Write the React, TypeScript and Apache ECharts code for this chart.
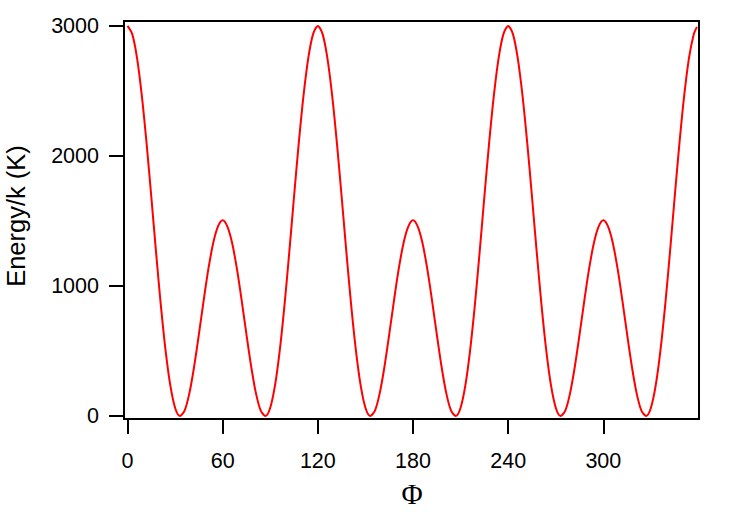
import React, { useEffect, useRef } from "react";
import * as echarts from "echarts";

const phi = [
  0, 3, 6, 9, 12, 15, 18, 21, 24, 27, 30, 33, 36, 39, 42, 45, 48, 51, 54, 57,
  60, 63, 66, 69, 72, 75, 78, 81, 84, 87, 90, 93, 96, 99, 102, 105, 108, 111, 114, 117,
  120, 123, 126, 129, 132, 135, 138, 141, 144, 147, 150, 153, 156, 159, 162, 165, 168, 171, 174, 177,
  180, 183, 186, 189, 192, 195, 198, 201, 204, 207, 210, 213, 216, 219, 222, 225, 228, 231, 234, 237,
  240, 243, 246, 249, 252, 255, 258, 261, 264, 267, 270, 273, 276, 279, 282, 285, 288, 291, 294, 297,
  300, 303, 306, 309, 312, 315, 318, 321, 324, 327, 330, 333, 336, 339, 342, 345, 348, 351, 354, 357,
  359,
];

const energy = [
  3000, 2937, 2755, 2468, 2102, 1688, 1260, 855, 505, 235, 64, 1, 41, 174, 379, 627, 888, 1131, 1328, 1456,
  1505, 1456, 1328, 1131, 888, 627, 379, 174, 41, 1, 64, 235, 505, 855, 1260, 1688, 2102, 2468, 2755, 2937,
  3000, 2937, 2755, 2468, 2102, 1688, 1260, 855, 505, 235, 64, 1, 41, 174, 379, 627, 888, 1131, 1328, 1456,
  1505, 1456, 1328, 1131, 888, 627, 379, 174, 41, 1, 64, 235, 505, 855, 1260, 1688, 2102, 2468, 2755, 2937,
  3000, 2937, 2755, 2468, 2102, 1688, 1260, 855, 505, 235, 64, 1, 41, 174, 379, 627, 888, 1131, 1328, 1456,
  1505, 1456, 1328, 1131, 888, 627, 379, 174, 41, 1, 64, 235, 505, 855, 1260, 1688, 2102, 2468, 2755, 2937,
  2993,
];

const xTicks = [0, 60, 120, 180, 240, 300];
const yTicks = [0, 1000, 2000, 3000];
const xTitle = "Φ";
const yTitle = "Energy/k (K)";

export default function App() {
  const ref = useRef<HTMLDivElement>(null);
  useEffect(() => {
    if (!ref.current) return;
    const chart = echarts.init(ref.current, null, { renderer: "svg" });
    const data = phi.map((p, i) => [p, energy[i]]);
    const labelFont = "Liberation Sans, Arial, sans-serif";
    const plain = (v: number) => String(v);
    chart.setOption({
      animation: false,
      backgroundColor: "#ffffff",
      grid: {
        left: 124,
        right: 48,
        top: 21,
        bottom: 93,
        show: true,
        borderColor: "#000000",
        borderWidth: 2,
        backgroundColor: "transparent",
      },
      xAxis: {
        type: "value",
        min: -2.2,
        max: 360.3,
        splitLine: { show: false },
        axisLine: { show: true, onZero: false, lineStyle: { color: "#000", width: 2 } },
        axisTick: {
          show: true,
          customValues: xTicks,
          length: 15,
          lineStyle: { color: "#000", width: 2 },
        },
        axisLabel: {
          customValues: xTicks,
          formatter: plain,
          color: "#000",
          fontSize: 21.5,
          fontFamily: labelFont,
          margin: 31,
        },
      },
      yAxis: {
        type: "value",
        min: -23,
        max: 3038,
        splitLine: { show: false },
        axisLine: { show: true, onZero: false, lineStyle: { color: "#000", width: 2 } },
        axisTick: {
          show: true,
          customValues: yTicks,
          length: 15,
          lineStyle: { color: "#000", width: 2 },
        },
        axisLabel: {
          customValues: yTicks,
          formatter: plain,
          color: "#000",
          fontSize: 21.5,
          fontFamily: labelFont,
          margin: 25,
        },
      },
      graphic: [
        {
          type: "text",
          x: 16,
          y: 216,
          rotation: Math.PI / 2,
          style: {
            text: yTitle,
            fill: "#000",
            font: "25.5px 'Liberation Sans', Arial, sans-serif",
            textAlign: "center",
            textVerticalAlign: "middle",
          },
        },
        {
          type: "text",
          x: 412,
          y: 494,
          style: {
            text: xTitle,
            fill: "#000",
            font: "29px 'Liberation Serif', 'DejaVu Serif', serif",
            textAlign: "center",
            textVerticalAlign: "middle",
          },
        },
      ],
      series: [
        {
          type: "line",
          data,
          showSymbol: false,
          smooth: 0.3,
          lineStyle: { color: "#ff0000", width: 2 },
          itemStyle: { color: "#ff0000" },
        },
      ],
    });
    return () => chart.dispose();
  }, []);
  return (
    <div
      ref={ref}
      style={{ position: "fixed", left: 0, top: 0, width: 747, height: 512, background: "#fff" }}
    />
  );
}
